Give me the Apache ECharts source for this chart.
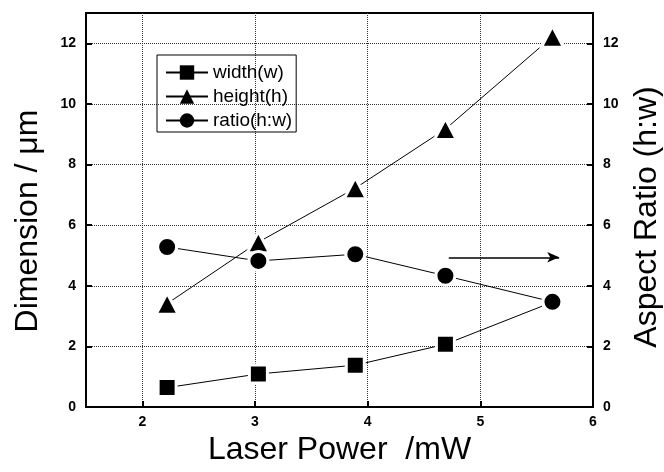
<!DOCTYPE html>
<html>
<head>
<meta charset="utf-8">
<script src="https://cdn.jsdelivr.net/npm/echarts@6/dist/echarts.min.js"></script>
<style>
  html, body { margin: 0; padding: 0; background: #fff; }
  #chart { width: 664px; height: 472px; }
</style>
</head>
<body>
<div id="chart"></div>
<script>
// 数据
var laserPower = [2.22, 3.03, 3.89, 4.69, 5.64];
var widthW = [0.64, 1.09, 1.38, 2.07, 3.46];
var heightH = [3.41, 5.44, 7.22, 9.17, 12.22];
var ratioHW = [5.28, 4.82, 5.04, 4.33, 3.47];
var xTicks = [2, 3, 4, 5, 6];
var yTicks = [0, 2, 4, 6, 8, 10, 12];
var arrowFrom = [4.72, 4.94];
var arrowTo = [5.7, 4.94];

function pairs(xs, ys) {
  return xs.map(function (x, i) { return [x, ys[i]]; });
}

var labelFont = { color: '#000', fontFamily: 'Liberation Sans', fontWeight: 'bold', fontSize: 14 };
var titleFont = { color: '#000', fontFamily: 'Liberation Sans', fontSize: 32 };

function yAxisOpt(pos, name, gap, pad) {
  return {
    type: 'value',
    position: pos,
    min: 0,
    max: 13,
    name: name,
    nameLocation: 'middle',
    nameRotate: 90,
    nameGap: gap,
    nameTextStyle: Object.assign({ padding: pad }, titleFont),
    axisLine: { show: true, lineStyle: { color: '#000', width: 2 } },
    axisTick: { show: true, inside: true, length: 6, lineStyle: { color: '#000', width: 2 }, customValues: yTicks },
    axisLabel: Object.assign({ margin: 10, customValues: yTicks }, labelFont),
    splitLine: { show: pos === 'left', lineStyle: { color: '#333', type: 'dotted', width: 1 } }
  };
}

var chart = echarts.init(document.getElementById('chart'));
chart.setOption({
  animation: false,
  grid: { left: 86, right: 71, top: 13, bottom: 65, outerBoundsMode: 'none', show: true, borderColor: '#000', borderWidth: 2 },
  legend: {
    orient: 'vertical',
    left: 157,
    top: 55,
    padding: [8, 4, 2, 8],
    itemWidth: 42,
    itemHeight: 18,
    itemGap: 5,
    borderColor: '#000',
    borderWidth: 1,
    borderRadius: 0,
    itemStyle: { borderWidth: 0 },
    textStyle: { color: '#000', fontFamily: 'Liberation Sans', fontSize: 19, lineHeight: 18 },
    data: ['width(w)', 'height(h)', 'ratio(h:w)']
  },
  xAxis: {
    type: 'value',
    min: 1.5,
    max: 6,
    name: 'Laser Power  /mW',
    nameLocation: 'middle',
    nameGap: 27,
    nameTextStyle: titleFont,
    axisLine: { show: true, lineStyle: { color: '#000', width: 2 } },
    axisTick: { show: true, inside: true, length: 6, lineStyle: { color: '#000', width: 2 }, customValues: xTicks },
    axisLabel: Object.assign({ margin: 8, customValues: xTicks }, labelFont),
    splitLine: { show: true, lineStyle: { color: '#333', type: 'dotted', width: 1 } }
  },
  yAxis: [
    yAxisOpt('left', 'Dimension / μm', 42, [0, 22, 0, 0]),
    yAxisOpt('right', 'Aspect Ratio (h:w)', 38, [0, 14, 0, 0])
  ],
  series: [
    {
      name: 'width(w)',
      type: 'line',
      data: pairs(laserPower, widthW),
      symbol: 'rect',
      symbolSize: 18,
      lineStyle: { color: '#000', width: 1 },
      itemStyle: { color: '#000', borderColor: '#fff', borderWidth: 3 },
      z: 3
    },
    {
      name: 'height(h)',
      type: 'line',
      data: pairs(laserPower, heightH),
      symbol: 'triangle',
      symbolSize: [22, 21],
      lineStyle: { color: '#000', width: 1 },
      itemStyle: { color: '#000', borderColor: '#fff', borderWidth: 3 },
      z: 3
    },
    {
      name: 'ratio(h:w)',
      type: 'line',
      yAxisIndex: 1,
      data: pairs(laserPower, ratioHW),
      symbol: 'circle',
      symbolSize: 19,
      lineStyle: { color: '#000', width: 1 },
      itemStyle: { color: '#000', borderColor: '#fff', borderWidth: 3 },
      z: 3,
      markLine: {
        silent: true,
        symbol: ['none', 'arrow'],
        symbolSize: [8, 12],
        label: { show: false },
        lineStyle: { color: '#000', width: 1.5, type: 'solid' },
        data: [[{ coord: arrowFrom }, { coord: arrowTo }]]
      }
    }
  ]
});
</script>
</body>
</html>
